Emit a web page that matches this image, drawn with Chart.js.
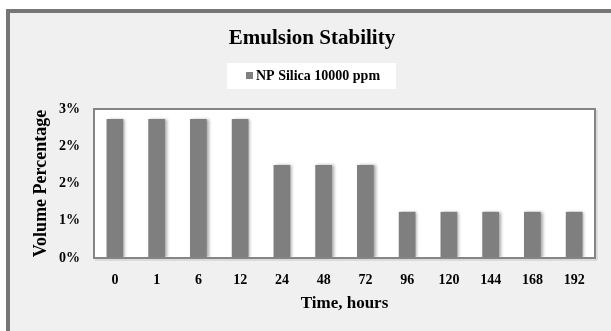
<!DOCTYPE html>
<html>
<head>
<meta charset="utf-8">
<script src="https://cdn.jsdelivr.net/npm/chart.js@4/dist/chart.umd.min.js"></script>
<style>
  html, body { margin: 0; padding: 0; background: #f0f0f0; overflow: hidden; }
  canvas { display: block; }
</style>
</head>
<body>
<canvas id="c" width="611" height="331"></canvas>
<script>
// Emulsion stability: volume percentage separated over time
const hours = ['0', '1', '6', '12', '24', '48', '72', '96', '120', '144', '168', '192'];
const volumePct = [2.8, 2.8, 2.8, 2.8, 1.87, 1.87, 1.87, 0.93, 0.93, 0.93, 0.93, 0.93];
const seriesName = 'NP Silica 10000 ppm';
const chartTitle = 'Emulsion Stability';
const yTitle = 'Volume Percentage';
const xTitle = 'Time, hours';

const SERIF = '"Liberation Serif", "Times New Roman", serif';
const BAR = '#7f7f7f';

// Page background, outer frame and white plot panel
const backdrop = {
  id: 'backdrop',
  beforeDraw(chart) {
    const { ctx, width, height, chartArea: a } = chart;
    ctx.save();
    ctx.fillStyle = '#ffffff';
    ctx.fillRect(0, 0, width, height);
    ctx.fillStyle = '#f0f0f0';
    ctx.fillRect(6, 9, width - 6, height - 9);
    ctx.fillStyle = '#767676';
    ctx.fillRect(6, 9, width - 6, 4);
    ctx.fillRect(6, 9, 4, height - 9);
    ctx.fillStyle = '#ffffff';
    ctx.fillRect(a.left, a.top, a.right - a.left, a.bottom - a.top);
    ctx.restore();
  },
  afterDraw(chart) {
    // keep the strip right of the plot plain
    const { ctx, width, height, chartArea: a } = chart;
    ctx.save();
    ctx.fillStyle = '#f0f0f0';
    ctx.fillRect(a.right + 4, 13, width - a.right - 4, height - 13);
    ctx.restore();
  }
};

// Plot frame, title and boxed legend
const decor = {
  id: 'decor',
  afterDatasetsDraw(chart) {
    const { ctx, chartArea: a } = chart;
    ctx.save();
    ctx.strokeStyle = '#c6c6c6';
    ctx.lineWidth = 1;
    ctx.beginPath();
    ctx.moveTo(a.right + 2, a.top + 1);
    ctx.lineTo(a.right + 2, a.bottom + 2);
    ctx.lineTo(a.left + 1, a.bottom + 2);
    ctx.stroke();
    ctx.strokeStyle = '#858585';
    ctx.lineWidth = 2;
    ctx.strokeRect(a.left, a.top, a.right - a.left, a.bottom - a.top);

    // title
    ctx.fillStyle = '#000000';
    ctx.font = 'bold 21px ' + SERIF;
    ctx.textAlign = 'center';
    ctx.textBaseline = 'alphabetic';
    ctx.fillText(chartTitle, 312, 44);

    // legend box
    ctx.fillStyle = '#ffffff';
    ctx.fillRect(227, 63, 169, 26);
    const ds = chart.data.datasets[0];
    ctx.fillStyle = ds.backgroundColor;
    ctx.fillRect(246, 72, 7, 7);
    ctx.fillStyle = '#000000';
    ctx.font = 'bold 14px ' + SERIF;
    ctx.textAlign = 'left';
    ctx.textBaseline = 'middle';
    ctx.fillText(ds.label, 256, 76.5);
    ctx.restore();
  }
};

// Soft shadow behind the bars
const barShadow = {
  id: 'barShadow',
  beforeDatasetDraw(chart) {
    const ctx = chart.ctx;
    ctx.save();
    ctx.shadowColor = 'rgba(0,0,0,0.35)';
    ctx.shadowBlur = 3;
    ctx.shadowOffsetX = 2;
    ctx.shadowOffsetY = 0;
  },
  afterDatasetDraw(chart) {
    chart.ctx.restore();
  }
};

new Chart(document.getElementById('c'), {
  type: 'bar',
  data: {
    labels: hours,
    datasets: [{
      label: seriesName,
      data: volumePct,
      backgroundColor: BAR,
      borderWidth: 0,
      barPercentage: 0.8,
      categoryPercentage: 0.5
    }]
  },
  options: {
    responsive: false,
    animation: false,
    devicePixelRatio: 1,
    layout: { padding: { top: 109, right: 16, left: 0, bottom: 0 } },
    plugins: {
      legend: { display: false },
      title: { display: false },
      tooltip: { enabled: false }
    },
    scales: {
      x: {
        grid: { display: false },
        border: { display: false },
        ticks: {
          color: '#000000',
          font: { family: SERIF, size: 14, weight: 'bold' },
          padding: 6,
          maxRotation: 0
        },
        title: {
          display: true,
          text: xTitle,
          color: '#000000',
          font: { family: SERIF, size: 17, weight: 'bold' },
          padding: { top: 0, bottom: 17 }
        },
        afterFit(scale) { scale.height = 73; }
      },
      y: {
        min: 0,
        max: 3,
        grid: { display: false },
        border: { display: false },
        ticks: {
          stepSize: 0.75,
          color: '#000000',
          font: { family: SERIF, size: 14, weight: 'bold' },
          padding: 6,
          callback: (v) => Math.round(v) + '%'
        },
        title: {
          display: true,
          text: yTitle,
          color: '#000000',
          font: { family: SERIF, size: 18, weight: 'bold' },
          padding: { top: 31, bottom: 0 }
        },
        afterFit(scale) { scale.width = 94; }
      }
    }
  },
  plugins: [backdrop, decor, barShadow]
});
</script>
</body>
</html>
